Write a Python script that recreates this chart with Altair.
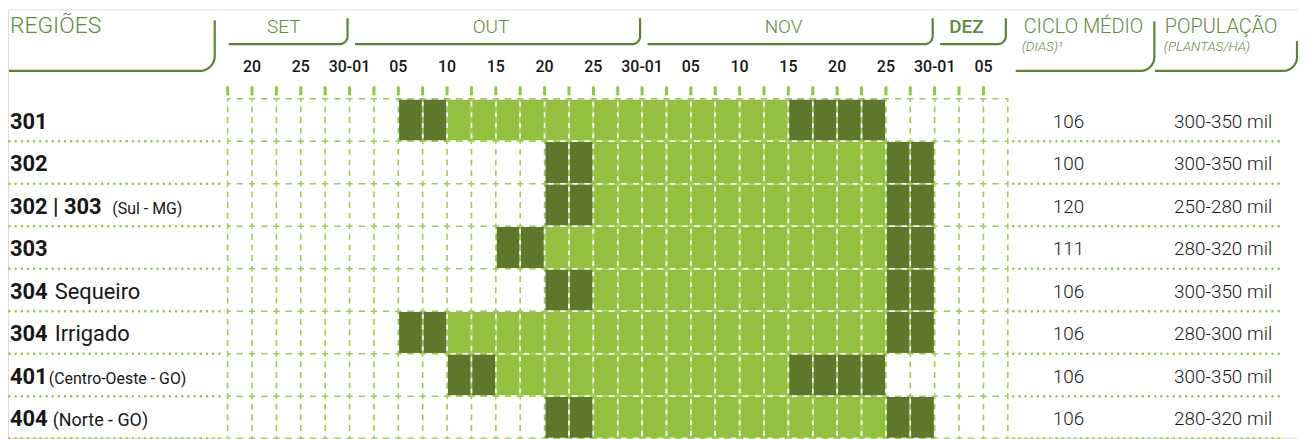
import altair as alt
import pandas as pd
import numpy as np

# ---------------- data ----------------
row_codes = ["301", "302", "302 | 303", "303", "304", "304", "401", "404"]
row_notes = ["", "", "(Sul - MG)", "", "Sequeiro", "Irrigado", "(Centro-Oeste - GO)", "(Norte - GO)"]
ciclo_dias = ["106", "100", "120", "111", "106", "106", "106", "106"]
populacao = ["300-350 mil", "300-350 mil", "250-280 mil", "280-320 mil",
             "300-350 mil", "280-300 mil", "300-350 mil", "280-320 mil"]
# planting window, in half-pentad columns (0..31) of the calendar
janela_inicio = [7, 13, 13, 11, 13, 7, 9, 13]
ideal_inicio = [9, 15, 15, 13, 15, 9, 11, 15]
ideal_fim = [23, 27, 27, 27, 27, 27, 23, 27]
janela_fim = [27, 29, 29, 29, 29, 29, 27, 29]
day_labels = ["20", "25", "30-01", "05", "10", "15", "20", "25",
              "30-01", "05", "10", "15", "20", "25", "30-01", "05"]
months = ["SET", "OUT", "NOV", "DEZ"]
month_start = [0, 5, 17, 29]
month_end = [5, 17, 29, 32]
n_cols = 32

# ---------------- layout / style ----------------
W, H = 1298, 431
U = 785 / 32          # px per column
ROW_H = 42.75         # px per row
GX0, GY0 = 229, 98    # page position of the grid origin
def kx(px): return (px - GX0) / U
def ry(py): return (py - GY0) / ROW_H

DARK = "#5d782b"
LIGHT = "#94c03f"
GRID = "#9fcb55"
TICK = "#8dc63f"
HEAD = "#64883a"
BRK = "#5f8131"
INK = "#161616"
FONT = "Roboto"

xs = alt.Scale(domain=[kx(8), kx(8 + W)], nice=False, zero=False)
ys = alt.Scale(domain=[ry(8), ry(8 + H)], nice=False, zero=False, reverse=True)
def X(f): return alt.X(f, type="quantitative", scale=xs, axis=None)
def Y(f): return alt.Y(f, type="quantitative", scale=ys, axis=None)

y_end = ry(8 + H)
layers = []

# top ticks
ticks = pd.DataFrame({"k": list(range(n_cols)), "y0": ry(85.5), "y1": ry(94.5)})
layers.append(alt.Chart(ticks).mark_rule(color=TICK, strokeWidth=3).encode(
    x=X("k"), y=Y("y0"), y2="y1"))

# green dashed grid
vlines = pd.DataFrame({"k": list(range(n_cols + 1)), "y0": 0.0, "y1": y_end})
hlines = pd.DataFrame({"r": list(range(len(row_codes) + 1)), "x0": 0.0, "x1": float(n_cols)})
Pv, Ph = ROW_H / 4, U / 2
layers.append(alt.Chart(vlines).mark_rule(color=GRID, strokeWidth=1.6,
              strokeDash=[6, Pv - 6], strokeDashOffset=3).encode(x=X("k"), y=Y("y0"), y2="y1"))
layers.append(alt.Chart(hlines).mark_rule(color=GRID, strokeWidth=1.6,
              strokeDash=[6.5, Ph - 6.5], strokeDashOffset=3.25).encode(y=Y("r"), x=X("x0"), x2="x1"))

# cells
cells = []
ix, iy = 0.75 / U, 0.75 / ROW_H
for r in range(len(row_codes)):
    for c in range(janela_inicio[r], janela_fim[r]):
        fase = "ideal" if ideal_inicio[r] <= c < ideal_fim[r] else "limite"
        cells.append({"x0": c + ix, "x1": c + 1 - ix, "y0": r + iy, "y1": r + 1 - iy, "fase": fase})
cells = pd.DataFrame(cells)
layers.append(alt.Chart(cells).mark_rect().encode(
    x=X("x0"), x2="x1", y=Y("y0"), y2="y1",
    color=alt.Color("fase:N", scale=alt.Scale(domain=["limite", "ideal"], range=[DARK, LIGHT]), legend=None)))

# white dashes in the gaps of the green dash pattern (visible over the cells)
layers.append(alt.Chart(vlines).mark_rule(color="white", strokeWidth=1.6,
              strokeDash=[4, Pv - 4], strokeDashOffset=Pv - (3 + (Pv - 6) / 2 - 2)).encode(
    x=X("k"), y=Y("y0"), y2="y1"))
layers.append(alt.Chart(hlines).mark_rule(color="white", strokeWidth=1.6,
              strokeDash=[5, Ph - 5], strokeDashOffset=Ph - (3.25 + (Ph - 6.5) / 2 - 2.5)).encode(
    y=Y("r"), x=X("x0"), x2="x1"))

# dotted separators
seps = []
for r in range(1, len(row_codes) + 1):
    seps.append({"r": r, "x0": kx(9.5), "x1": kx(224)})
    seps.append({"r": r, "x0": kx(1019.5), "x1": kx(1287)})
seps = pd.DataFrame(seps)
layers.append(alt.Chart(seps).mark_rule(color=TICK, strokeWidth=2.6, strokeCap="round",
              strokeDash=[0.01, 6.2]).encode(y=Y("r"), x=X("x0"), x2="x1"))

# header brackets
def bracket(g, x0, xv, yb, yt, rad, n=14):
    pts = [(x0, yb)]
    cx, cy = xv - rad, yb - rad
    for j in range(n + 1):
        phi = np.pi / 2 * j / n
        pts.append((cx + rad * np.sin(phi), cy + rad * np.cos(phi)))
    pts.append((xv, yt))
    return [{"g": g, "i": i, "x": kx(px), "y": ry(py)} for i, (px, py) in enumerate(pts)]

br = []
br += bracket("reg", 9, 216, 70, 19, 15)
for m, s, e in zip(months, month_start, month_end):
    x0 = GX0 + s * U + (1 if s == 0 else 5.5)
    xv = GX0 + e * U - 2
    br += bracket(m, x0, xv, 43, 17, 8)
br += bracket("ciclo", 1022, 1161.5, 70, 20, 14)
br += bracket("pop", 1162, 1305, 70, 40, 14)
br = pd.DataFrame(br)
layers.append(alt.Chart(br).mark_line(color=BRK, strokeWidth=2.2, strokeCap="butt", strokeJoin="round").encode(
    x=X("x"), y=Y("y"), detail="g:N", order="i:Q"))

# header texts
head = pd.DataFrame([
    {"t": "REGIÕES", "x": kx(10), "y": ry(32), "s": 23},
    {"t": "CICLO MÉDIO", "x": kx(1030), "y": ry(32), "s": 20},
    {"t": "POPULAÇÃO", "x": kx(1172), "y": ry(32), "s": 20},
])
layers.append(alt.Chart(head).mark_text(font=FONT, fontWeight=300, color=HEAD, align="left",
              baseline="alphabetic").encode(x=X("x"), y=Y("y"), text="t:N", size=alt.Size("s:Q", scale=None)))
sub = pd.DataFrame([
    {"t": "(DIAS)¹", "x": kx(1028), "y": ry(50)},
    {"t": "(PLANTAS/HA)", "x": kx(1171), "y": ry(50)},
])
layers.append(alt.Chart(sub).mark_text(font=FONT, fontWeight=300, fontStyle="italic", fontSize=13.5,
              color=HEAD, align="left", baseline="alphabetic").encode(x=X("x"), y=Y("y"), text="t:N"))

mon = pd.DataFrame({"t": months,
                    "x": [(s + e) / 2 - 0.2 for s, e in zip(month_start, month_end)],
                    "y": ry(32),
                    "w": [300, 300, 300, 500]})
layers.append(alt.Chart(mon[mon.w == 300]).mark_text(font=FONT, fontSize=19, fontWeight=300, color=HEAD,
              align="center", baseline="alphabetic").encode(x=X("x"), y=Y("y"), text="t:N"))
layers.append(alt.Chart(mon[mon.w == 500]).mark_text(font=FONT, fontSize=19, fontWeight=500, color=HEAD,
              align="center", baseline="alphabetic").encode(x=X("x"), y=Y("y"), text="t:N"))

days = pd.DataFrame({"t": day_labels, "x": [2 * i + 1 for i in range(len(day_labels))], "y": ry(66)})
layers.append(alt.Chart(days).mark_text(font=FONT, fontSize=16, fontWeight=500, color=INK, align="center",
              baseline="middle").encode(x=X("x"), y=Y("y"), text="t:N"))

# row texts
note_px = [0, 0, 113, 0, 55, 55, 49, 53]
note_fs = [16, 16, 16, 16, 22, 22, 16, 18]
rows = pd.DataFrame({
    "code": row_codes, "note": row_notes, "ciclo": ciclo_dias, "pop": populacao,
    "yb": [r + 0.5 + 9 / ROW_H for r in range(len(row_codes))],
    "yv": [r + 0.5 + 8 / ROW_H for r in range(len(row_codes))],
    "xc": kx(10), "xn": [kx(p) for p in note_px], "fs": note_fs,
    "xcy": kx(1075), "xp": kx(1280),
})
layers.append(alt.Chart(rows).mark_text(font=FONT, fontSize=22, fontWeight=700, color=INK, align="left",
              baseline="alphabetic").encode(x=X("xc"), y=Y("yb"), text="code:N"))
layers.append(alt.Chart(rows[rows.note != ""]).mark_text(font=FONT, fontWeight=400, color=INK, align="left",
              baseline="alphabetic").encode(x=X("xn"), y=Y("yb"), text="note:N",
                                            size=alt.Size("fs:Q", scale=None)))
layers.append(alt.Chart(rows).mark_text(font=FONT, fontSize=19, fontWeight=300, color=INK, align="center",
              baseline="alphabetic").encode(x=X("xcy"), y=Y("yv"), text="ciclo:N"))
layers.append(alt.Chart(rows).mark_text(font=FONT, fontSize=19, fontWeight=300, color=INK, align="right",
              baseline="alphabetic").encode(x=X("xp"), y=Y("yv"), text="pop:N"))

chart = alt.layer(*layers).properties(
    width=W, height=H, padding=0, autosize=alt.AutoSizeParams(type="none")
).configure_view(strokeWidth=0).configure(font=FONT)

chart.save("out.html", embed_options={"renderer": "svg", "actions": False})
